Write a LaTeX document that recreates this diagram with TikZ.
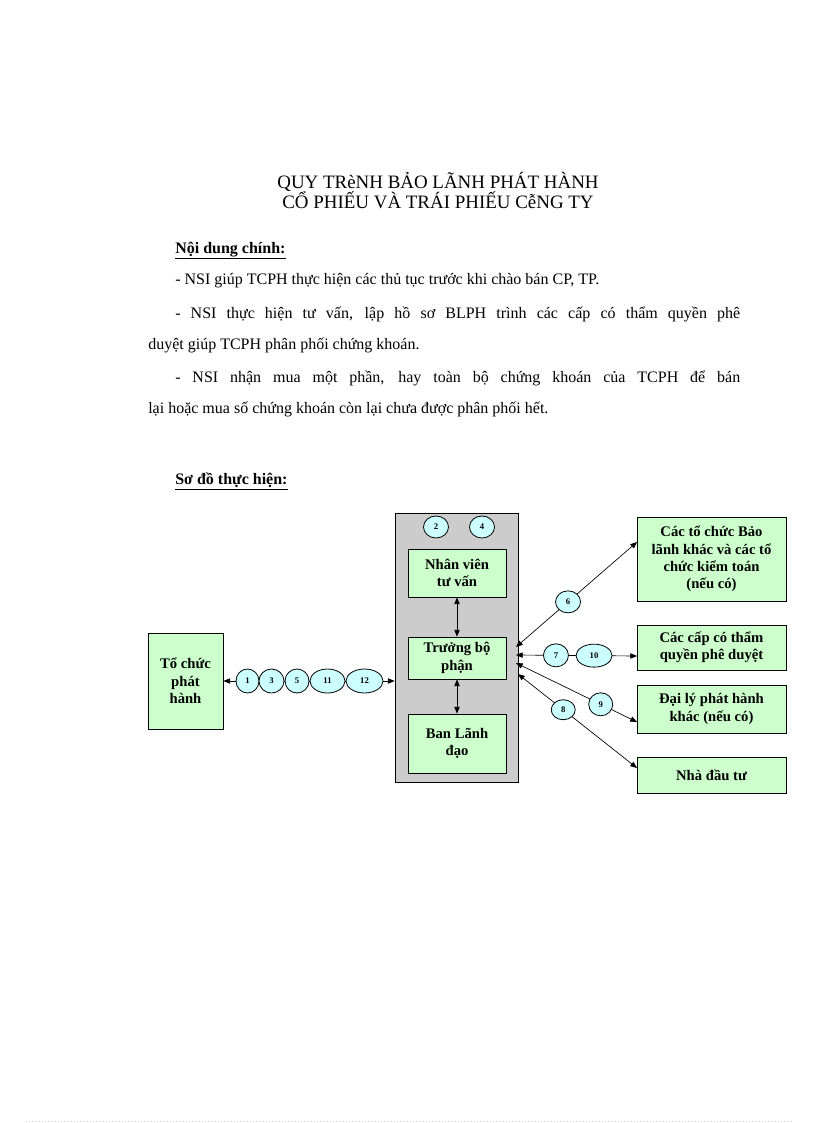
\documentclass[tikz,border=0pt]{standalone}
\usepackage{fontspec}
\setmainfont{Liberation Serif}
\usetikzlibrary{arrows.meta,shapes.geometric,calc}
\definecolor{boxgreen}{RGB}{204,255,204}
\definecolor{numcyan}{RGB}{204,255,255}
\definecolor{contgray}{RGB}{204,204,204}
\begin{document}
\begin{tikzpicture}[x=0.75pt,y=-0.75pt,
  box/.style={draw=black, line width=0.6pt, fill=boxgreen, align=center,
    font=\fontsize{11}{13}\selectfont\bfseries, inner sep=0pt},
  num/.style={draw=black, line width=0.6pt, fill=numcyan, ellipse, inner sep=0pt,
    font=\fontsize{6.5}{7}\selectfont\bfseries},
  conn/.style={line width=0.5pt,
    {Triangle[length=5pt,width=4pt]}-{Triangle[length=5pt,width=4pt]}},
  txt/.style={anchor=base west, inner sep=0pt, font=\fontsize{12}{14}\selectfont},
  ttl/.style={anchor=base, inner sep=0pt, font=\fontsize{14.2}{16}\selectfont}]
\useasboundingbox (0,0) rectangle (816,1123);
\fill[white] (0,0) rectangle (816,1123);

% title and text
\node[ttl] (t1) at (438,189) {QUY TRèNH BẢO LÃNH PHÁT HÀNH};
\node[ttl] (t2) at (438,209) {CỔ PHIẾU VÀ TRÁI PHIẾU CễNG TY};
\node[txt] (h1) at (175,253) {\bfseries\underline{Nội dung chính:}};
\node[txt] (l1) at (175,284) {- NSI giúp TCPH thực hiện các thủ tục trước khi chào bán CP, TP.};
\node[txt] (l2) at (175,318) {\makebox[423.75pt][s]{- NSI thực hiện tư vấn, lập hồ sơ BLPH trình các cấp có thẩm quyền phê}};
\node[txt] (l3) at (148,349) {duyệt giúp TCPH phân phối chứng khoán.};
\node[txt] (l4) at (175,382) {\makebox[423.75pt][s]{- NSI nhận mua một phần, hay toàn bộ chứng khoán của TCPH để bán}};
\node[txt] (l5) at (148,413) {lại hoặc mua số chứng khoán còn lại chưa được phân phối hết.};
\node[txt] (h2) at (175,484) {\bfseries\underline{Sơ đồ thực hiện:}};

% container
\node[draw=black, line width=0.6pt, fill=contgray, minimum width=92.25pt, minimum height=201.75pt, inner sep=0pt] (cont) at (456.5,647.5) {};
\node[num, minimum width=18.75pt, minimum height=16.5pt] (n2) at (436,527) {2};
\node[num, minimum width=18.75pt, minimum height=16.5pt] (n4) at (482,527) {4};
\node[box, minimum width=73.5pt, minimum height=36pt] (nv) at (457,573) {Nhân viên\\tư vấn};
\node[box, minimum width=73.5pt, minimum height=31.5pt] (tb) at (457,658) {Trưởng bộ\\phận};
\node[box, minimum width=73.5pt, minimum height=44.25pt] (bl) at (457,743.5) {Ban Lãnh\\đạo};

% left box
\node[box, minimum width=56.25pt, minimum height=72pt] (toc) at (185.5,681) {Tổ chức\\phát\\hành};

% right boxes
\node[box, minimum width=111.75pt, minimum height=63pt] (r1) at (711.5,559) {Các tổ chức Bảo\\lãnh khác và các tổ\\chức kiểm toán\\(nếu có)};
\node[box, minimum width=111.75pt, minimum height=33.75pt] (r2) at (711.5,647.5) {Các cấp có thẩm\\quyền phê duyệt};
\node[box, minimum width=111.75pt, minimum height=36pt] (r3) at (711.5,709) {Đại lý phát hành\\khác (nếu có)};
\node[box, minimum width=111.75pt, minimum height=27pt] (r4) at (711.5,775) {Nhà đầu tư};

% connectors inside container
\draw[conn] (nv.south) -- (tb.north);
\draw[conn] (tb.south) -- (bl.north);

% left connector with numbers
\draw[conn] (toc.east) -- (toc.east -| cont.west);
\node[num, minimum width=17.25pt, minimum height=18pt] (n1) at (247.5,681) {1};
\node[num, minimum width=18.75pt, minimum height=18pt] (n3) at (271.5,681) {3};
\node[num, minimum width=18pt, minimum height=18pt] (n5) at (297,681) {5};
\node[num, minimum width=26.25pt, minimum height=18pt] (n11) at (327.5,681) {11};
\node[num, minimum width=27.75pt, minimum height=18pt] (n12) at (364.5,681) {12};

% right connectors
\coordinate (s6) at (516,647);
\coordinate (e6) at (637,542);
\coordinate (s7) at (516,655);
\coordinate (e7) at (637,656);
\coordinate (s9) at (516,663);
\coordinate (e9) at (637,722);
\coordinate (s8) at (518,674);
\coordinate (e8) at (637,768);
\draw[conn] (s6) -- node[num, pos=0.43, minimum width=18.75pt, minimum height=16.5pt] (n6) {6} (e6);
\draw[conn] (s7) -- node[num, pos=0.33, minimum width=18.75pt, minimum height=17.25pt] (n7) {7}
  node[num, pos=0.645, minimum width=27pt, minimum height=17.25pt] (n10) {10} (e7);
\draw[conn] (s9) -- node[num, pos=0.70, minimum width=18pt, minimum height=17.25pt] (n9) {9} (e9);
\draw[conn] (s8) -- node[num, pos=0.38, minimum width=18pt, minimum height=15pt] (n8) {8} (e8);

% faint dotted line at bottom
\coordinate (d1) at (26,1121);
\coordinate (d2) at (792,1121);
\draw[gray!40, dotted, line width=0.4pt] (d1) -- (d2);
\end{tikzpicture}
\end{document}
